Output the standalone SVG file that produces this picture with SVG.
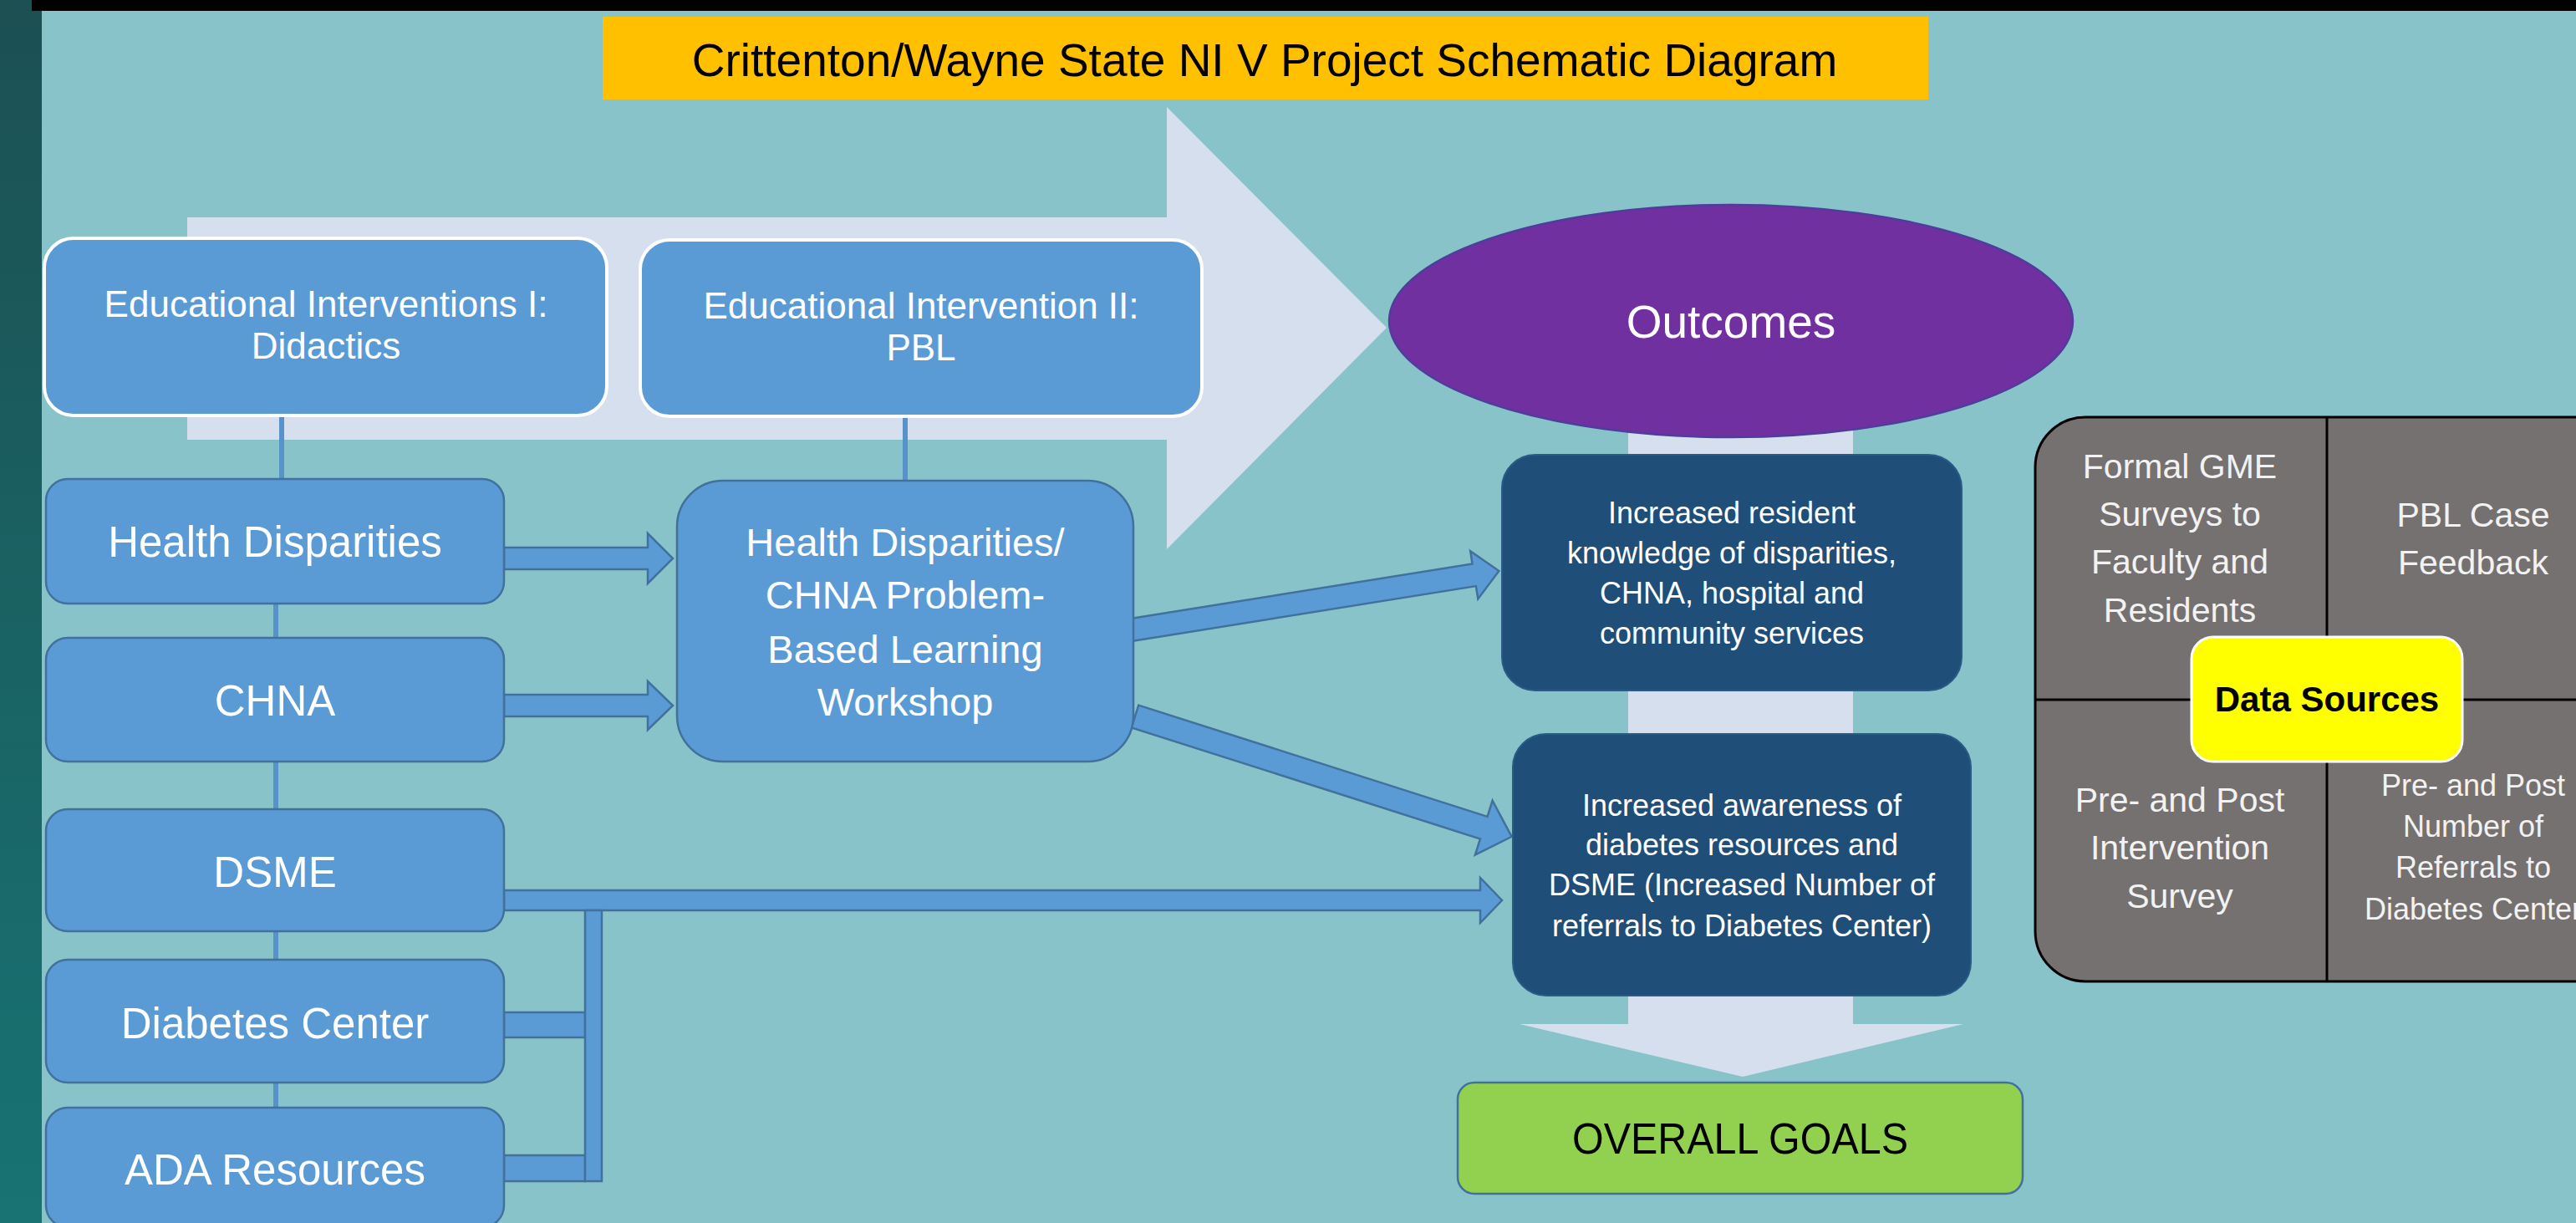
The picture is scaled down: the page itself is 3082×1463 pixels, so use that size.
<svg xmlns="http://www.w3.org/2000/svg" width="3082" height="1463" viewBox="0 0 3082 1463">
<defs>
<linearGradient id="strip" x1="0" y1="0" x2="0" y2="1">
<stop offset="0" stop-color="#1c5053"/>
<stop offset="1" stop-color="#187373"/>
</linearGradient>
<style>
text{font-family:"Liberation Sans",Arial,sans-serif;text-anchor:middle}
.wt{fill:#ffffff}
.gt{fill:#f2f2f2}
.flow{fill:#d5dfee}
.edu{fill:#5b9bd5;stroke:#ffffff;stroke-width:4}
.blue{fill:#5b9bd5;stroke:#41719c;stroke-width:2.5}
.outc{fill:#1f4e79;stroke:#2a5a86;stroke-width:2}
.arrow{fill:#5b9bd5;stroke:#41719c;stroke-width:2.5;stroke-linejoin:miter}
.link{stroke:#5792cb;stroke-width:6;fill:none}
.div{stroke:#000000;stroke-width:3;fill:none}
</style>
</defs>

<g id="background">
<rect x="0" y="0" width="3082" height="1463" fill="#88c3ca"/>
<rect x="0" y="0" width="50" height="1463" fill="url(#strip)"/>
<rect x="38" y="0" width="3044" height="13" fill="#000000"/>
</g>

<g id="flow-arrows">
<polygon class="flow" points="224,260 1396,260 1396,128 1659,392 1396,657 1396,526 224,526"/>
<rect class="flow" x="1948" y="420" width="269" height="806"/>
<polygon class="flow" points="1818,1225 2349,1225 2085,1288"/>
</g>

<g id="title">
<rect x="721" y="20" width="1586" height="99" fill="#ffc000"/>
<text x="1513" y="91" font-size="55" fill="#000000">Crittenton/Wayne State NI V Project Schematic Diagram</text>
</g>

<g id="outcomes">
<ellipse cx="2071" cy="384" rx="409" ry="139" fill="#7030a0" stroke="#4f3d9c" stroke-width="2.5"/>
<text class="wt" x="2071" y="404" font-size="55">Outcomes</text>
</g>

<g id="connectors">
<line class="link" x1="337" y1="497" x2="337" y2="574"/>
<line class="link" x1="1083" y1="498" x2="1083" y2="576"/>
<line class="link" x1="330" y1="722" x2="330" y2="763"/>
<line class="link" x1="330" y1="911" x2="330" y2="968"/>
<line class="link" x1="330" y1="1114" x2="330" y2="1148"/>
<line class="link" x1="330" y1="1295" x2="330" y2="1325"/>
<polygon class="arrow" points="603,655 775,655 775,638 805,668 775,698 775,681 603,681"/>
<polygon class="arrow" points="603,831 775,831 775,815 805,844 775,873 775,857 603,857"/>
<polygon class="arrow" points="603,1065 1771,1065 1771,1050 1797,1077 1771,1104 1771,1089 603,1089"/>
<rect class="arrow" x="603" y="1211" width="97" height="30"/>
<rect class="arrow" x="603" y="1382" width="97" height="31"/>
<rect class="arrow" x="700" y="1089" width="20" height="324"/>
<polygon class="arrow" transform="translate(1350,754) rotate(-9.09)" points="0,-13.5 419,-13.5 419,-29 449,0 419,29 419,13.5 0,13.5"/>
<polygon class="arrow" transform="translate(1358,857) rotate(17.7)" points="0,-14 438,-14 438,-34 473,0 438,34 438,14 0,14"/>
</g>

<g id="edu1">
<rect class="edu" x="53" y="285" width="673" height="212" rx="35"/>
<text class="wt" x="390" y="379" font-size="44">Educational Interventions I:</text>
<text class="wt" x="390" y="429" font-size="44">Didactics</text>
</g>

<g id="edu2">
<rect class="edu" x="766" y="287" width="672" height="211" rx="35"/>
<text class="wt" x="1102" y="381" font-size="44">Educational Intervention II:</text>
<text class="wt" x="1102" y="431" font-size="44">PBL</text>
</g>

<g id="health-disparities">
<rect class="blue" x="55" y="573" width="548" height="149" rx="26"/>
<text class="wt" x="329" y="666" font-size="51">Health Disparities</text>
</g>

<g id="chna">
<rect class="blue" x="55" y="763" width="548" height="148" rx="26"/>
<text class="wt" x="329" y="856" font-size="51">CHNA</text>
</g>

<g id="dsme">
<rect class="blue" x="55" y="968" width="548" height="146" rx="26"/>
<text class="wt" x="329" y="1061" font-size="51">DSME</text>
</g>

<g id="diabetes-center">
<rect class="blue" x="55" y="1148" width="548" height="147" rx="26"/>
<text class="wt" x="329" y="1242" font-size="51">Diabetes Center</text>
</g>

<g id="ada-resources">
<rect class="blue" x="55" y="1325" width="548" height="143" rx="26"/>
<text class="wt" x="329" y="1417" font-size="51">ADA Resources</text>
</g>

<g id="pbl-workshop">
<rect class="blue" x="810" y="575" width="546" height="336" rx="55"/>
<text class="wt" x="1083" y="665" font-size="47">Health Disparities/</text>
<text class="wt" x="1083" y="728" font-size="47">CHNA Problem-</text>
<text class="wt" x="1083" y="793" font-size="47">Based Learning</text>
<text class="wt" x="1083" y="856" font-size="47">Workshop</text>
</g>

<g id="outcome-knowledge">
<rect class="outc" x="1797" y="544" width="550" height="282" rx="40"/>
<text class="wt" x="2072" y="626" font-size="36">Increased resident</text>
<text class="wt" x="2072" y="674" font-size="36">knowledge of disparities,</text>
<text class="wt" x="2072" y="722" font-size="36">CHNA, hospital and</text>
<text class="wt" x="2072" y="770" font-size="36">community services</text>
</g>

<g id="outcome-awareness">
<rect class="outc" x="1810" y="878" width="548" height="313" rx="40"/>
<text class="wt" x="2084" y="976" font-size="36">Increased awareness of</text>
<text class="wt" x="2084" y="1023" font-size="36">diabetes resources and</text>
<text class="wt" x="2084" y="1071" font-size="36">DSME (Increased Number of</text>
<text class="wt" x="2084" y="1120" font-size="36">referrals to Diabetes Center)</text>
</g>

<g id="overall-goals">
<rect x="1744" y="1295" width="676" height="133" rx="20" fill="#92d050" stroke="#41719c" stroke-width="2.5"/>
<text x="2082" y="1380" font-size="51" fill="#000000" textLength="402" lengthAdjust="spacingAndGlyphs">OVERALL GOALS</text>
</g>

<g id="data-sources-panel">
<path d="M3100,499 H2495 A60,60 0 0 0 2435,559 V1114 A60,60 0 0 0 2495,1174 H3100 Z" fill="#767171" stroke="#000000" stroke-width="3"/>
<line class="div" x1="2784" y1="499" x2="2784" y2="1174"/>
<line class="div" x1="2435" y1="837" x2="3100" y2="837"/>
<text class="gt" x="2608" y="572" font-size="41">Formal GME</text>
<text class="gt" x="2608" y="629" font-size="41">Surveys to</text>
<text class="gt" x="2608" y="686" font-size="41">Faculty and</text>
<text class="gt" x="2608" y="744" font-size="41">Residents</text>
<text class="gt" x="2959" y="630" font-size="41">PBL Case</text>
<text class="gt" x="2959" y="687" font-size="41">Feedback</text>
<text class="gt" x="2608" y="971" font-size="41">Pre- and Post</text>
<text class="gt" x="2608" y="1028" font-size="41">Intervention</text>
<text class="gt" x="2608" y="1086" font-size="41">Survey</text>
<text class="gt" x="2959" y="952" font-size="36">Pre- and Post</text>
<text class="gt" x="2959" y="1001" font-size="36">Number of</text>
<text class="gt" x="2959" y="1050" font-size="36">Referrals to</text>
<text class="gt" x="2959" y="1100" font-size="36">Diabetes Center</text>
</g>

<g id="data-sources">
<rect x="2622" y="762" width="324" height="149" rx="26" fill="#ffff00" stroke="#ffffff" stroke-width="3"/>
<text x="2784" y="851" font-size="42" font-weight="bold" fill="#000000">Data Sources</text>
</g>
</svg>
